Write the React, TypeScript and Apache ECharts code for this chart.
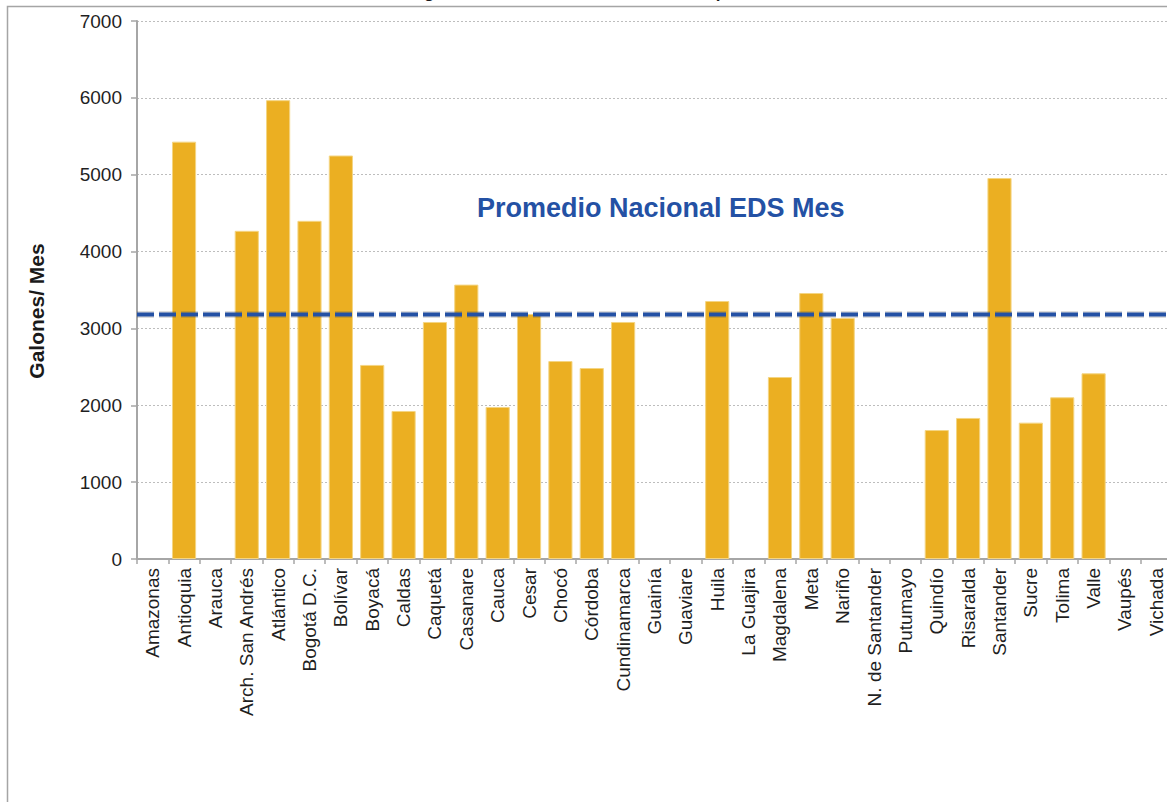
import React, { useEffect, useRef } from "react";
import * as echarts from "echarts";

const categories = [
  "Amazonas", "Antioquia", "Arauca", "Arch. San Andrés", "Atlántico", "Bogotá D.C.",
  "Bolívar", "Boyacá", "Caldas", "Caquetá", "Casanare", "Cauca", "Cesar", "Chocó",
  "Córdoba", "Cundinamarca", "Guainía", "Guaviare", "Huila", "La Guajira", "Magdalena",
  "Meta", "Nariño", "N. de Santander", "Putumayo", "Quindío", "Risaralda", "Santander",
  "Sucre", "Tolima", "Valle", "Vaupés", "Vichada",
];

const galonesMes: (number | null)[] = [
  null, 5430, null, 4270, 5970, 4400, 5250, 2525, 1926, 3084, 3570, 1978, 3188, 2576,
  2485, 3084, null, null, 3357, null, 2368, 3461, 3136, null, null, 1678, 1835, 4957,
  1774, 2104, 2416, null, null,
];

const promedioNacional = 3180;

const yTicks = { min: 0, max: 7000, interval: 1000 };

const titleText = "Volumen Promedio de galones vendidos en las EDS del Departamento";
const lineLabel = "Promedio Nacional EDS Mes";
const yAxisName = "Galones/ Mes";

const FONT = "'Liberation Sans', Arial, Helvetica, sans-serif";
const OFFSET_Y = 20;

export default function App() {
  const ref = useRef<HTMLDivElement>(null);

  useEffect(() => {
    if (!ref.current) return;
    const chart = echarts.init(ref.current, null, { renderer: "svg" });
    const avgLine = [
      [0, promedioNacional],
      [1, promedioNacional],
    ];
    chart.setOption({
      animation: false,
      backgroundColor: "#ffffff",
      grid: { left: 137, top: 21 + OFFSET_Y, width: 1035, height: 538, containLabel: false },
      title: {
        text: titleText,
        left: 241,
        top: 4,
        padding: 0,
        textStyle: { fontFamily: FONT, fontSize: 17, fontWeight: "bold", color: "#1a1a1a" },
      },
      xAxis: [
        {
          type: "category",
          data: categories,
          axisLine: { show: true, lineStyle: { color: "#A6A6A6", width: 2 } },
          axisTick: { show: true, length: 5, lineStyle: { color: "#A6A6A6", width: 1.5 } },
          axisLabel: {
            rotate: 90,
            interval: 0,
            margin: 9,
            fontFamily: FONT,
            fontSize: 19,
            color: "#1f1f1f",
          },
          splitLine: { show: false },
        },
        {
          type: "value",
          min: 0,
          max: 1,
          show: false,
        },
      ],
      yAxis: {
        type: "value",
        min: yTicks.min,
        max: yTicks.max,
        interval: yTicks.interval,
        axisLine: { show: true, lineStyle: { color: "#A6A6A6", width: 2 } },
        axisTick: { show: true, length: 6, lineStyle: { color: "#A6A6A6", width: 1.5 } },
        axisLabel: {
          margin: 15,
          fontFamily: FONT,
          fontSize: 19,
          color: "#1f1f1f",
          formatter: (v: number) => String(v),
        },
        splitLine: { show: true, lineStyle: { color: "#BDBDBD", width: 1, type: [2, 2] } },
      },
      series: [
        {
          type: "bar",
          data: galonesMes,
          barCategoryGap: "23%",
          itemStyle: { color: "#EBAF22", borderColor: "#F4D583", borderWidth: 1 },
        },
        {
          type: "line",
          xAxisIndex: 1,
          data: avgLine,
          symbol: "none",
          silent: true,
          z: 4,
          lineStyle: {
            color: "rgba(60,60,60,0.18)",
            width: 7,
            type: [17, 5],
          },
        },
        {
          type: "line",
          xAxisIndex: 1,
          data: avgLine,
          symbol: "none",
          silent: true,
          z: 5,
          lineStyle: {
            color: "#2451A4",
            width: 4,
            type: [17, 5],
          },
        },
      ],
      graphic: [
        {
          type: "rect",
          silent: true,
          z: -10,
          shape: { x: 7.5, y: 6.5 + OFFSET_Y, width: 1300, height: 1000 },
          style: { fill: "none", stroke: "#A5A5A5", lineWidth: 1.5 },
        },
        {
          type: "text",
          x: 477,
          y: 208 + OFFSET_Y,
          style: {
            text: lineLabel,
            fontFamily: FONT,
            fontSize: 27,
            fontWeight: "bold",
            fill: "#2451A4",
            align: "left",
            verticalAlign: "middle",
          },
        },
        {
          type: "text",
          x: 36,
          y: 311 + OFFSET_Y,
          rotation: Math.PI / 2,
          style: {
            text: yAxisName,
            fontFamily: FONT,
            fontSize: 21,
            fontWeight: "bold",
            fill: "#1a1a1a",
            align: "center",
            verticalAlign: "middle",
          },
        },
      ],
    });
    return () => chart.dispose();
  }, []);

  return (
    <div
      style={{
        position: "fixed",
        left: 0,
        top: 0,
        width: 1167,
        height: 802,
        overflow: "hidden",
        background: "#fff",
      }}
    >
      <div
        ref={ref}
        style={{ position: "absolute", left: 0, top: -OFFSET_Y, width: 1200, height: 840 }}
      />
    </div>
  );
}
